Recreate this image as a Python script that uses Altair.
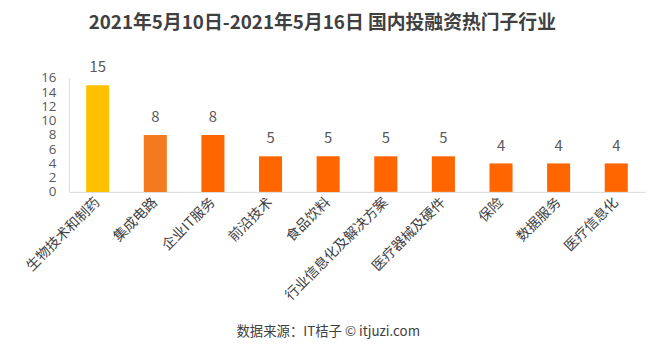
import altair as alt
import pandas as pd

categories = ["生物技术和制药", "集成电路", "企业IT服务", "前沿技术", "食品饮料",
              "行业信息化及解决方案", "医疗器械及硬件", "保险", "数据服务", "医疗信息化"]
values = [15, 8, 8, 5, 5, 5, 5, 4, 4, 4]
bar_colors = ["#FFC000", "#F47A20", "#FF6600", "#FF6600", "#FF6600",
              "#FF6600", "#FF6600", "#FF6600", "#FF6600", "#FF6600"]
y_ticks = [0, 2, 4, 6, 8, 10, 12, 14, 16]
title_text = "2021年5月10日-2021年5月16日 国内投融资热门子行业"
footer_text = "数据来源：IT桔子  © itjuzi.com"

df = pd.DataFrame({"cat": categories, "val": values, "col": bar_colors})

FONT = "Noto Sans CJK SC"

x_enc = alt.X("cat:N", sort=categories,
              scale=alt.Scale(paddingInner=0.6, paddingOuter=0.3),
              axis=alt.Axis(title=None, labelAngle=-45, labelAlign="right",
                            labelBaseline="middle", labelPadding=8,
                            labelFontSize=14, labelColor="#404040", labelFont=FONT,
                            ticks=False, domainColor="#D9D9D9", labelOverlap=False,
                            labelLimit=300))
y_enc = alt.Y("val:Q", scale=alt.Scale(domain=[0, 16], nice=False),
              axis=alt.Axis(title=None, values=y_ticks, grid=False, ticks=False,
                            labelFontSize=13.5, labelColor="#595959", labelFont="Open Sans",
                            labelPadding=13, domainColor="#D9D9D9",
                            labelOverlap=False, labelFlush=False))

base = alt.Chart(df).encode(x=x_enc, y=y_enc)

bars = base.mark_bar().encode(
    color=alt.Color("col:N", scale=None, legend=None),
)

labels = base.mark_text(baseline="bottom", dy=-10, fontSize=15,
                        color="#595959", font=FONT).encode(text="val:Q")

footer = alt.Chart(pd.DataFrame({"t": [footer_text]})).mark_text(
    fontSize=13.5, color="#404040", font=FONT, align="center", baseline="middle"
).encode(x=alt.value(262), y=alt.value(257), text="t:N")

chart = alt.layer(bars, labels, footer).properties(
    width=582, height=115,
    padding={"left": 61.5, "top": 69, "right": 5, "bottom": 160},
    autosize=alt.AutoSizeParams(type="none"),
    title=alt.TitleParams(title_text, fontSize=19, fontWeight="bold",
                          color="#404040", font=FONT, anchor="middle",
                          dx=-35, offset=28),
    background="white",
).configure_view(stroke=None)

chart.save("out.html", embed_options={"renderer": "svg", "actions": False})
